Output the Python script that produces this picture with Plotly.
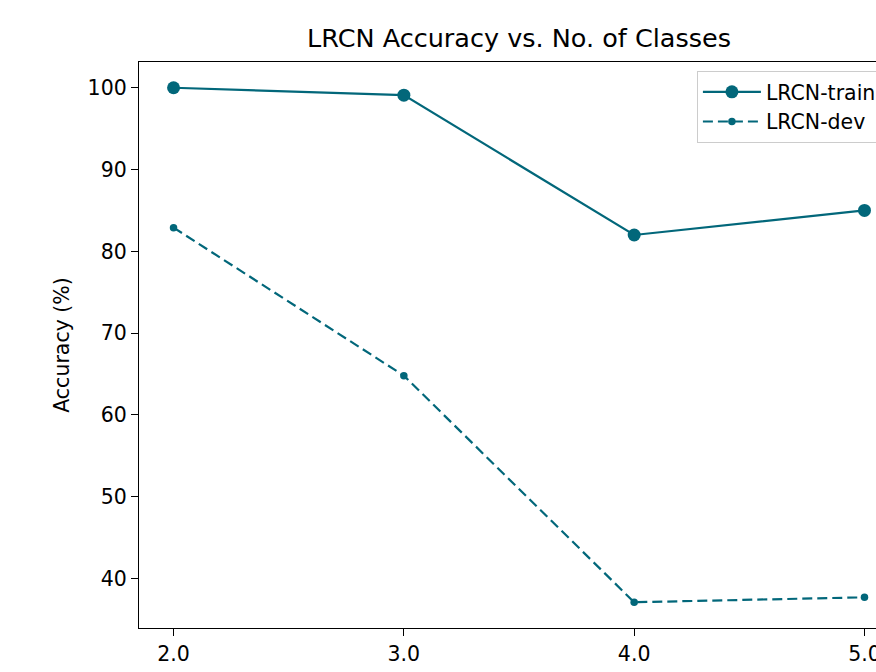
import plotly.graph_objects as go

# Data: accuracy of the LRCN model for different numbers of classes
num_classes = [2.0, 3.0, 4.0, 5.0]
train_acc = [100.0, 99.1, 82.0, 85.0]
dev_acc = [82.9, 64.8, 37.1, 37.7]

x_ticks = [2.0, 3.0, 4.0, 5.0]
x_tick_labels = ["2.0", "3.0", "4.0", "5.0"]
y_ticks = [40, 50, 60, 70, 80, 90, 100]

TEAL = "#02677a"
FONT = "DejaVu Sans"
FIG_W, FIG_H = 876, 672
PLOT_TOP, PLOT_BOTTOM = 62, 628
PLOT_H = PLOT_BOTTOM - PLOT_TOP

fig = go.Figure()

fig.add_trace(go.Scatter(
    x=num_classes, y=train_acc, name="LRCN-train",
    mode="lines+markers",
    line=dict(color=TEAL, width=2.2),
    marker=dict(color=TEAL, size=13, line=dict(width=0)),
))

fig.add_trace(go.Scatter(
    x=num_classes, y=dev_acc, name="LRCN-dev",
    mode="lines+markers",
    line=dict(color=TEAL, width=2.2, dash="10px,5px"),
    marker=dict(color=TEAL, size=7.5, line=dict(width=0)),
))

fig.update_layout(
    width=FIG_W, height=FIG_H,
    margin=dict(l=139, r=0, t=PLOT_TOP, b=FIG_H - PLOT_BOTTOM, pad=0, autoexpand=False),
    paper_bgcolor="white", plot_bgcolor="white",
    font=dict(family=FONT, size=20.5, color="black"),
    title=dict(
        text="LRCN Accuracy vs. No. of Classes",
        font=dict(family=FONT, size=25.5, color="black"),
        x=0.5156, xanchor="center", xref="paper",
        y=1 - 38 / FIG_H, yref="container", yanchor="middle",
    ),
    showlegend=True,
    legend=dict(
        x=0.757, y=1 - 9 / PLOT_H, xanchor="left", yanchor="top",
        bgcolor="rgba(255,255,255,0.8)",
        bordercolor="#cccccc", borderwidth=1,
        font=dict(family=FONT, size=20.5, color="black"),
        itemwidth=58,
        tracegroupgap=0,
    ),
    # x-axis title, placed below the tick labels at the bottom edge
    annotations=[dict(
        text="Number of Classes",
        xref="paper", yref="paper",
        x=(519 - 139) / 737, y=-(666.8 - PLOT_BOTTOM) / PLOT_H,
        xanchor="center", yanchor="top",
        showarrow=False,
        font=dict(family=FONT, size=20.5, color="black"),
    )],
)

fig.update_xaxes(
    range=[1.85, 5.05],
    tickvals=x_ticks, ticktext=x_tick_labels,
    ticklabeloverflow="allow",
    ticks="outside", ticklen=7, tickwidth=1.3, tickcolor="black",
    showline=True, linecolor="black", linewidth=1.3, mirror=True,
    showgrid=False, zeroline=False,
)

fig.update_yaxes(
    range=[33.95, 103.15],
    tickvals=y_ticks,
    ticks="outside", ticklen=7, tickwidth=1.3, tickcolor="black",
    showline=True, linecolor="black", linewidth=1.3, mirror=False,
    showgrid=False, zeroline=False,
    title=dict(text="Accuracy (%)", font=dict(family=FONT, size=20.5, color="black"), standoff=12),
)

fig.write_html("out.html")
